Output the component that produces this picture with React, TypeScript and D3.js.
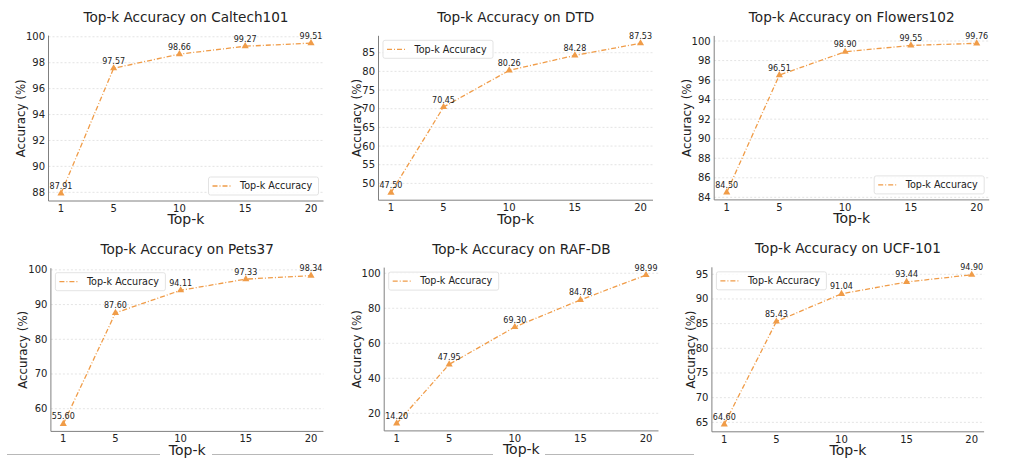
import React from "react";
import * as d3 from "d3";

const topK = [1, 5, 10, 15, 20];
const datasetNames = ["Caltech101", "DTD", "Flowers102", "Pets37", "RAF-DB", "UCF-101"];
const caltech101 = [87.91, 97.57, 98.66, 99.27, 99.51];
const dtd = [47.5, 70.45, 80.26, 84.28, 87.53];
const flowers102 = [84.5, 96.51, 98.9, 99.55, 99.76];
const pets37 = [55.6, 87.6, 94.11, 97.33, 98.34];
const rafdb = [14.2, 47.95, 69.3, 84.78, 98.99];
const ucf101 = [64.6, 85.43, 91.04, 93.44, 94.9];
const seriesValues = [caltech101, dtd, flowers102, pets37, rafdb, ucf101];
const yTicksCaltech = [88, 90, 92, 94, 96, 98, 100];
const yTicksDtd = [50, 55, 60, 65, 70, 75, 80, 85];
const yTicksFlowers = [84, 86, 88, 90, 92, 94, 96, 98, 100];
const yTicksPets = [60, 70, 80, 90, 100];
const yTicksRaf = [20, 40, 60, 80, 100];
const yTicksUcf = [65, 70, 75, 80, 85, 90, 95];
const yTickSets = [yTicksCaltech, yTicksDtd, yTicksFlowers, yTicksPets, yTicksRaf, yTicksUcf];
const legendCorner = ["lr", "ul", "lr", "ul", "ul", "ul"];

// layout (left, top, right, bottom) of each axes
const layouts = [
  [48.5, 35.6, 323.5, 201],
  [378.5, 35.8, 653, 200.2],
  [714.2, 35.9, 989.2, 199.9],
  [50.9, 268.2, 323.4, 431.4],
  [384.2, 267.6, 658.5, 430.9],
  [711.9, 267.3, 984.1, 431.8],
];

const COLOR = "#f09c48";
const FONT = "DejaVu Sans, sans-serif";
const TEXT = "#222";

function Panel({ idx }: { idx: number }) {
  const [l, t, r, b] = layouts[idx];
  const vals = seriesValues[idx];
  const yTicks = yTickSets[idx];
  const xExt = d3.extent(topK) as [number, number];
  const xm = (xExt[1] - xExt[0]) * 0.05;
  const x = d3.scaleLinear().domain([xExt[0] - xm, xExt[1] + xm]).range([l, r]);
  const yExt = d3.extent(vals) as [number, number];
  const ym = (yExt[1] - yExt[0]) * 0.05;
  const y = d3.scaleLinear().domain([yExt[0] - ym, yExt[1] + ym]).range([b, t]);
  const pts = topK.map((k, i) => [x(k), y(vals[i])] as [number, number]);
  const line = d3.line()(pts) || "";
  const maxDigits = d3.max(yTicks, (v) => String(v).length) || 2;
  const ylabX = l - (4.5 + 6.4 * maxDigits);
  const cx = (l + r) / 2;
  const cy = (t + b) / 2;
  const tri = d3.symbol().type(d3.symbolTriangle).size(22)() || "";

  const lw = 110, lh = 18;
  let lx: number, ly: number;
  if (legendCorner[idx] === "lr") {
    lx = r - 5 - lw;
    ly = b - 6 - lh;
  } else {
    lx = l + 4.5;
    ly = t + 4.5;
  }
  return (
    <g>
      <text x={cx} y={t - 14} textAnchor="middle" fontSize={13.6} fontFamily={FONT} fill={TEXT}>
        {"Top-k Accuracy on " + datasetNames[idx]}
      </text>
      {yTicks.map((v) => (
        <line key={"g" + v} x1={l} x2={r} y1={y(v)} y2={y(v)} stroke="#d8d8d8" strokeWidth={0.7} strokeDasharray="2,2" />
      ))}
      {yTicks.map((v) => (
        <text key={"yt" + v} x={l - 3.5} y={y(v)} dy="0.35em" textAnchor="end" fontSize={10} fontFamily={FONT} fill={TEXT}>
          {v}
        </text>
      ))}
      {topK.map((k) => (
        <text key={"xt" + k} x={x(k)} y={b + 11} textAnchor="middle" fontSize={10} fontFamily={FONT} fill={TEXT}>
          {k}
        </text>
      ))}
      <line x1={l} x2={l} y1={t} y2={b} stroke="#808080" strokeWidth={1} />
      <line x1={l} x2={r} y1={b} y2={b} stroke="#808080" strokeWidth={1} />
      <path d={line} fill="none" stroke={COLOR} strokeWidth={1.3} strokeDasharray="5,2,1,2" />
      {pts.map(([px, py], i) => (
        <path key={"m" + i} d={tri} transform={`translate(${px},${py})`} fill={COLOR} />
      ))}
      {pts.map(([px, py], i) => (
        <text key={"a" + i} x={px} y={py - 4.5} textAnchor="middle" fontSize={8} fontFamily={FONT} fill={TEXT}>
          {vals[i].toFixed(2)}
        </text>
      ))}
      <text x={cx} y={b + 23.3} textAnchor="middle" fontSize={14} fontFamily={FONT} fill={TEXT}>
        Top-k
      </text>
      <text transform={`translate(${ylabX},${cy}) rotate(-90)`} textAnchor="middle" fontSize={11.8} fontFamily={FONT} fill={TEXT}>
        Accuracy (%)
      </text>
      <rect x={lx} y={ly} width={lw} height={lh} rx={2} fill="white" fillOpacity={0.85} stroke="#dcdcdc" strokeWidth={0.8} />
      <line x1={lx + 4} x2={lx + 24} y1={ly + lh / 2} y2={ly + lh / 2} stroke={COLOR} strokeWidth={1.3} strokeDasharray="5,2,1,2" />
      <text x={lx + 31.5} y={ly + lh / 2} dy="0.35em" fontSize={9.6} fontFamily={FONT} fill={TEXT}>
        Top-k Accuracy
      </text>
    </g>
  );
}

const strayLines = [
  [7, 160],
  [212, 493],
  [545, 694],
];

export default function App() {
  return (
    <svg width={1011} height={458} style={{ position: "absolute", left: 0, top: 0, background: "white" }}>
      <rect width={1011} height={458} fill="white" />
      {strayLines.map(([a, c], i) => (
        <line key={i} x1={a} x2={c} y1={454.5} y2={454.5} stroke="#b8b8b8" strokeWidth={1} />
      ))}
      {datasetNames.map((_, i) => (
        <Panel key={i} idx={i} />
      ))}
    </svg>
  );
}
